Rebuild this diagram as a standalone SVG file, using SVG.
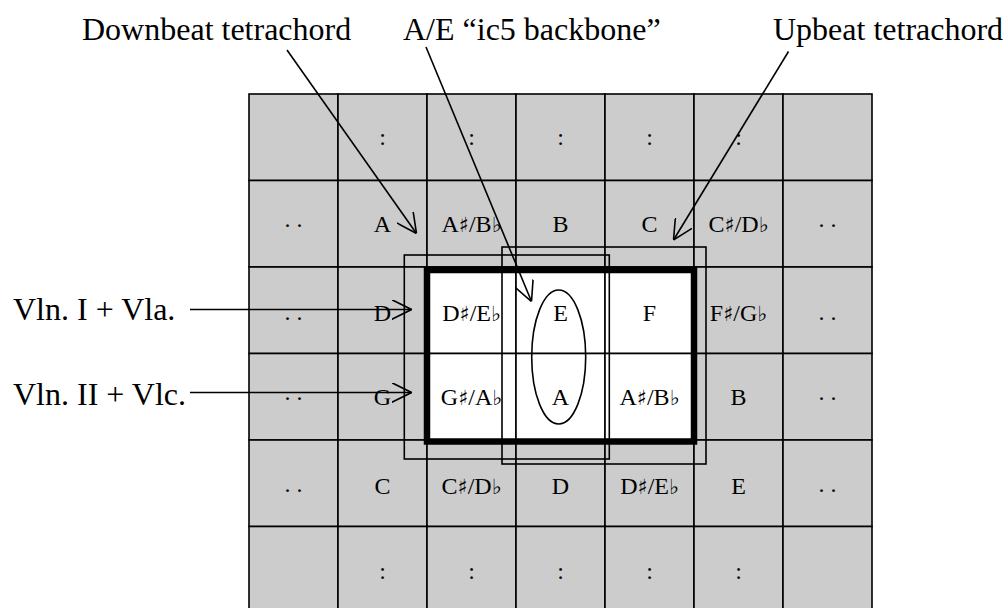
<svg xmlns="http://www.w3.org/2000/svg" width="1006" height="608" viewBox="0 0 1006 608">
<style>
.c{fill:#cccccc;stroke:#000;stroke-width:1.6}
.w{fill:#ffffff;stroke:#000;stroke-width:1.6}
.t{font-family:"Liberation Serif","DejaVu Sans",serif;font-size:24px;fill:#000;text-anchor:middle}
.acc{font-family:"DejaVu Sans","DejaVu Serif",sans-serif;font-size:21px;fill:#000}
.lab{font-family:"Liberation Serif","DejaVu Sans",serif;font-size:32px;fill:#000}
.box{fill:none;stroke:#000;stroke-width:1.6}
.ar{fill:none;stroke:#000;stroke-width:1.6;marker-end:url(#ah)}
</style>
<defs>
<marker id="ah" viewBox="0 0 20 20" refX="20" refY="10" markerWidth="20" markerHeight="20" markerUnits="userSpaceOnUse" orient="auto">
<path d="M0,0 L20,10 L0,20" fill="none" stroke="#000" stroke-width="1.6"/>
</marker>
</defs>
<rect width="1006" height="608" fill="#fff"/>
<g id="grid">
<g id="r0c0"><rect class="c" x="249" y="94" width="89" height="86.5"/></g>
<g id="r0c1"><rect class="c" x="338" y="94" width="89" height="86.5"/><text class="t" x="382.5" y="145">:</text></g>
<g id="r0c2"><rect class="c" x="427" y="94" width="89" height="86.5"/><text class="t" x="471.5" y="145">:</text></g>
<g id="r0c3"><rect class="c" x="516" y="94" width="89" height="86.5"/><text class="t" x="560.5" y="145">:</text></g>
<g id="r0c4"><rect class="c" x="605" y="94" width="89" height="86.5"/><text class="t" x="649.5" y="145">:</text></g>
<g id="r0c5"><rect class="c" x="694" y="94" width="89" height="86.5"/><text class="t" x="738.5" y="145">:</text></g>
<g id="r0c6"><rect class="c" x="783" y="94" width="89" height="86.5"/></g>

<g id="r1c0"><rect class="c" x="249" y="180.5" width="89" height="86.5"/><text class="t" x="293.5" y="227">. .</text></g>
<g id="r1c1"><rect class="c" x="338" y="180.5" width="89" height="86.5"/><text class="t" x="382.5" y="231.5">A</text></g>
<g id="r1c2"><rect class="c" x="427" y="180.5" width="89" height="86.5"/><text class="t" x="471.5" y="231.5">A<tspan class="acc">♯</tspan>/B<tspan class="acc">♭</tspan></text></g>
<g id="r1c3"><rect class="c" x="516" y="180.5" width="89" height="86.5"/><text class="t" x="560.5" y="231.5">B</text></g>
<g id="r1c4"><rect class="c" x="605" y="180.5" width="89" height="86.5"/><text class="t" x="649.5" y="231.5">C</text></g>
<g id="r1c5"><rect class="c" x="694" y="180.5" width="89" height="86.5"/><text class="t" x="738.5" y="231.5">C<tspan class="acc">♯</tspan>/D<tspan class="acc">♭</tspan></text></g>
<g id="r1c6"><rect class="c" x="783" y="180.5" width="89" height="86.5"/><text class="t" x="827.5" y="227">. .</text></g>

<g id="r2c0"><rect class="c" x="249" y="267" width="89" height="86.5"/><text class="t" x="293.5" y="319.5">. .</text></g>
<g id="r2c1"><rect class="c" x="338" y="267" width="89" height="86.5"/><text class="t" x="382.5" y="320.5">D</text></g>
<g id="r2c2"><rect class="w" x="427" y="267" width="89" height="86.5"/><text class="t" x="471.5" y="320.5">D<tspan class="acc">♯</tspan>/E<tspan class="acc">♭</tspan></text></g>
<g id="r2c3"><rect class="w" x="516" y="267" width="89" height="86.5"/><text class="t" x="560.5" y="320.5">E</text></g>
<g id="r2c4"><rect class="w" x="605" y="267" width="89" height="86.5"/><text class="t" x="649.5" y="320.5">F</text></g>
<g id="r2c5"><rect class="c" x="694" y="267" width="89" height="86.5"/><text class="t" x="738.5" y="320.5">F<tspan class="acc">♯</tspan>/G<tspan class="acc">♭</tspan></text></g>
<g id="r2c6"><rect class="c" x="783" y="267" width="89" height="86.5"/><text class="t" x="827.5" y="319.5">. .</text></g>

<g id="r3c0"><rect class="c" x="249" y="353.5" width="89" height="86.5"/><text class="t" x="293.5" y="399.5">. .</text></g>
<g id="r3c1"><rect class="c" x="338" y="353.5" width="89" height="86.5"/><text class="t" x="382.5" y="405">G</text></g>
<g id="r3c2"><rect class="w" x="427" y="353.5" width="89" height="86.5"/><text class="t" x="471.5" y="405">G<tspan class="acc">♯</tspan>/A<tspan class="acc">♭</tspan></text></g>
<g id="r3c3"><rect class="w" x="516" y="353.5" width="89" height="86.5"/><text class="t" x="560.5" y="405">A</text></g>
<g id="r3c4"><rect class="w" x="605" y="353.5" width="89" height="86.5"/><text class="t" x="649.5" y="405">A<tspan class="acc">♯</tspan>/B<tspan class="acc">♭</tspan></text></g>
<g id="r3c5"><rect class="c" x="694" y="353.5" width="89" height="86.5"/><text class="t" x="738.5" y="405">B</text></g>
<g id="r3c6"><rect class="c" x="783" y="353.5" width="89" height="86.5"/><text class="t" x="827.5" y="399.5">. .</text></g>

<g id="r4c0"><rect class="c" x="249" y="440" width="89" height="86.5"/><text class="t" x="293.5" y="492">. .</text></g>
<g id="r4c1"><rect class="c" x="338" y="440" width="89" height="86.5"/><text class="t" x="382.5" y="493.5">C</text></g>
<g id="r4c2"><rect class="c" x="427" y="440" width="89" height="86.5"/><text class="t" x="471.5" y="493.5">C<tspan class="acc">♯</tspan>/D<tspan class="acc">♭</tspan></text></g>
<g id="r4c3"><rect class="c" x="516" y="440" width="89" height="86.5"/><text class="t" x="560.5" y="493.5">D</text></g>
<g id="r4c4"><rect class="c" x="605" y="440" width="89" height="86.5"/><text class="t" x="649.5" y="493.5">D<tspan class="acc">♯</tspan>/E<tspan class="acc">♭</tspan></text></g>
<g id="r4c5"><rect class="c" x="694" y="440" width="89" height="86.5"/><text class="t" x="738.5" y="493.5">E</text></g>
<g id="r4c6"><rect class="c" x="783" y="440" width="89" height="86.5"/><text class="t" x="827.5" y="492">. .</text></g>

<g id="r5c0"><rect class="c" x="249" y="526.5" width="89" height="86.5"/></g>
<g id="r5c1"><rect class="c" x="338" y="526.5" width="89" height="86.5"/><text class="t" x="382.5" y="578.5">:</text></g>
<g id="r5c2"><rect class="c" x="427" y="526.5" width="89" height="86.5"/><text class="t" x="471.5" y="578.5">:</text></g>
<g id="r5c3"><rect class="c" x="516" y="526.5" width="89" height="86.5"/><text class="t" x="560.5" y="578.5">:</text></g>
<g id="r5c4"><rect class="c" x="605" y="526.5" width="89" height="86.5"/><text class="t" x="649.5" y="578.5">:</text></g>
<g id="r5c5"><rect class="c" x="694" y="526.5" width="89" height="86.5"/><text class="t" x="738.5" y="578.5">:</text></g>
<g id="r5c6"><rect class="c" x="783" y="526.5" width="89" height="86.5"/></g>
</g>
<g id="downbeat-box"><rect class="box" x="404.3" y="255" width="205" height="204"/></g>
<g id="upbeat-box"><rect class="box" x="502" y="247" width="204" height="217"/></g>
<g id="core-box"><rect fill="none" stroke="#000" stroke-width="6.5" x="427" y="270" width="267" height="171.5"/></g>
<g id="ic5-ellipse"><ellipse fill="none" stroke="#000" stroke-width="1.6" cx="558.7" cy="357" rx="27" ry="67"/></g>
<g id="labels">
<text class="lab" x="82" y="39.5">Downbeat tetrachord</text>
<text class="lab" x="403" y="39.5">A/E “ic5 backbone”</text>
<text class="lab" x="773" y="39.5">Upbeat tetrachord</text>
<text class="lab" x="13" y="319.5">Vln. I + Vla.</text>
<text class="lab" x="13" y="405">Vln. II + Vlc.</text>
</g>
<g id="connectors">
<line class="ar" x1="287" y1="50" x2="416.5" y2="233.5"/>
<line class="ar" x1="426" y1="47" x2="531.5" y2="301.5"/>
<line class="ar" x1="788.5" y1="51.5" x2="673.5" y2="240"/>
<line class="ar" x1="190" y1="309.5" x2="411.5" y2="309.5"/>
<line class="ar" x1="190" y1="392.5" x2="411.5" y2="392.5"/>
</g>
</svg>
